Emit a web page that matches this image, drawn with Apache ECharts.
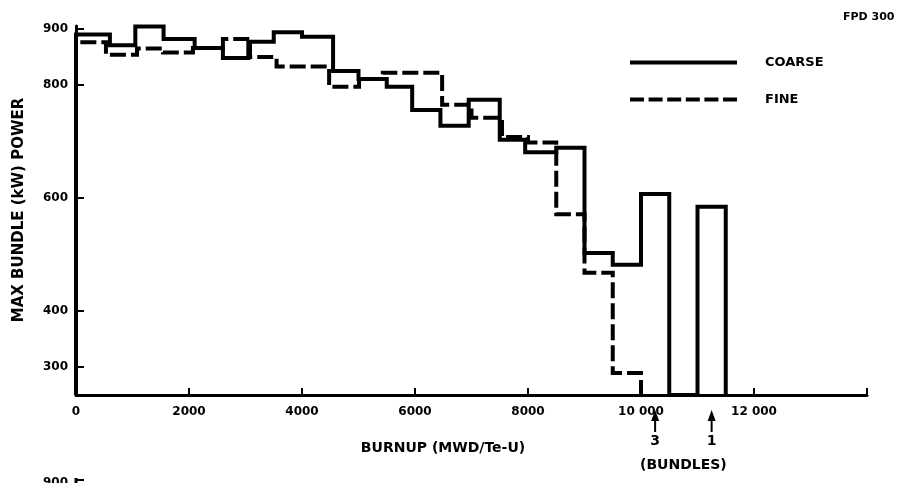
<!DOCTYPE html>
<html><head><meta charset="utf-8">
<script src="https://cdn.jsdelivr.net/npm/echarts@6/dist/echarts.min.js"></script>
<style>html,body{margin:0;padding:0;background:#fff;}#c{width:909px;height:483px;}</style>
</head><body><div id="c"></div>
<script>
// ---- data ----
const coarseEdges = [0,600,1050,1550,2100,2600,3050,3500,4000,4550,5000,5500,5950,6450,6950,7500,7950,8500,9000,9500,10000,10500,11000,11500];
const coarseValues = [890,871,904,882,866,848,877,894,886,825,811,797,756,728,774,703,681,689,502,481,607,250,584];
const fineEdges = [0,530,1080,1540,2070,2600,3080,3550,4480,5010,5430,6480,7000,7540,8000,8500,9000,9500,10000];
const fineValues = [876,854,865,858,866,882,850,833,797,811,822,765,742,708,698,571,467,289];
const yTickValues = [300,400,600,800,900];
const xTickValues = [0,2000,4000,6000,8000,10000,12000,14000];
const xTickLabels = ['0','2000','4000','6000','8000','10 000','12 000',''];
const bundleMarks = [10250, 11250];
const bundleLabels = ['3','1'];
const Y_MIN = 250, Y_MAX = 905, X_MAX = 14000;

function stepPoints(edges, vals) {
  const pts = [[edges[0], Y_MIN]];
  for (let i = 0; i < vals.length; i++) {
    pts.push([edges[i], vals[i]]);
    pts.push([edges[i + 1], vals[i]]);
  }
  pts.push([edges[edges.length - 1], Y_MIN]);
  return pts;
}

const FONT = 'DejaVu Sans';
const solidIcon = 'path://M0,0H107V4H0Z';
const dashedIcon = 'path://M0,0H14V4H0Z M18.6,0H32.6V4H18.6Z M37.2,0H51.2V4H37.2Z M55.8,0H69.8V4H55.8Z M74.4,0H88.4V4H74.4Z M93,0H107V4H93Z';
const chart = echarts.init(document.getElementById('c'), null, {renderer: 'canvas'});
const option = {
  animation: false,
  backgroundColor: '#fff',
  grid: {left: 76, right: 42, top: 26, bottom: 88, containLabel: false},
  xAxis: {
    type: 'value', min: 0, max: X_MAX, interval: 2000,
    axisLine: {show: true, lineStyle: {color: '#000', width: 3}},
    axisTick: {show: true, inside: true, length: 7, lineStyle: {color: '#000', width: 2}},
    axisLabel: {
      show: true, margin: 11, color: '#000', fontFamily: FONT, fontWeight: 'bold', fontSize: 12,
      formatter: v => { const i = xTickValues.indexOf(v); return i >= 0 ? xTickLabels[i] : ''; }
    },
    splitLine: {show: false}
  },
  yAxis: {
    type: 'value', min: Y_MIN, max: Y_MAX,
    axisLine: {show: true, lineStyle: {color: '#000', width: 3}},
    axisTick: {show: true, inside: true, length: 8, customValues: yTickValues, lineStyle: {color: '#000', width: 2}},
    axisLabel: {show: true, customValues: yTickValues, margin: 8, color: '#000', fontFamily: FONT, fontWeight: 'bold', fontSize: 12},
    splitLine: {show: false}
  },
  legend: {
    orient: 'vertical', left: 625, top: 51, itemWidth: 107, itemHeight: 4, itemGap: 24,
    data: [{name: 'COARSE', icon: solidIcon}, {name: 'FINE', icon: dashedIcon}],
    itemStyle: {color: '#000'},
    textStyle: {color: '#000', fontFamily: FONT, fontWeight: 'bold', fontSize: 13, padding: [0, 0, 0, 23]}
  },
  series: [
    {
      name: 'COARSE', type: 'line', symbol: 'none', data: stepPoints(coarseEdges, coarseValues),
      lineStyle: {color: '#000', width: 4, type: 'solid', join: 'miter'}, itemStyle: {color: '#000'}, z: 3
    },
    {
      name: 'FINE', type: 'line', symbol: 'none', data: stepPoints(fineEdges, fineValues),
      lineStyle: {color: '#000', width: 4, type: [16, 5], join: 'miter'}, itemStyle: {color: '#000'}, z: 4
    }
  ]
};
chart.setOption(option);

const g = [];
g.push({type: 'text', left: 843, top: 12, style: {text: 'FPD 300', fill: '#000', font: 'bold 11px "DejaVu Sans"'}});
g.push({type: 'text', x: 19, y: 210, rotation: Math.PI / 2,
  style: {text: 'MAX BUNDLE (kW) POWER', fill: '#000', font: 'bold 15px "DejaVu Sans"', align: 'center', verticalAlign: 'middle'}});
g.push({type: 'text', x: 443, y: 448,
  style: {text: 'BURNUP (MWD/Te-U)', fill: '#000', font: 'bold 14px "DejaVu Sans"', align: 'center', verticalAlign: 'middle'}});
const xs = bundleMarks.map(b => chart.convertToPixel({gridIndex: 0}, [b, Y_MIN])[0]);
xs.forEach((x, i) => {
  g.push({type: 'polygon', shape: {points: [[x, 410], [x - 4, 421], [x + 4, 421]]}, style: {fill: '#000'}});
  g.push({type: 'line', shape: {x1: x, y1: 418, x2: x, y2: 432}, style: {stroke: '#000', lineWidth: 2}});
  g.push({type: 'text', x: x, y: 441, style: {text: bundleLabels[i], fill: '#000', font: 'bold 14px "DejaVu Sans"', align: 'center', verticalAlign: 'middle'}});
});
g.push({type: 'text', x: (xs[0] + xs[1]) / 2, y: 465,
  style: {text: '(BUNDLES)', fill: '#000', font: 'bold 14px "DejaVu Sans"', align: 'center', verticalAlign: 'middle'}});
// top of the next (cut-off) panel
g.push({type: 'text', x: 68, y: 483, style: {text: '900', fill: '#000', font: 'bold 12px "DejaVu Sans"', align: 'right', verticalAlign: 'middle'}});
g.push({type: 'line', shape: {x1: 76, y1: 478, x2: 76, y2: 483}, style: {stroke: '#000', lineWidth: 3}});
g.push({type: 'line', shape: {x1: 76, y1: 480, x2: 84, y2: 480}, style: {stroke: '#000', lineWidth: 2}});
chart.setOption({graphic: g});
</script>
</body></html>
